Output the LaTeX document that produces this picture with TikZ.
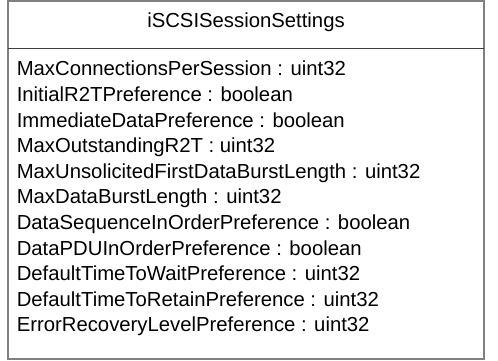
\documentclass[tikz,border=0pt]{standalone}
\usepackage{fontspec}
\setmainfont{Liberation Sans}
\begin{document}
\begin{tikzpicture}[x=1pt,y=-1pt,
    boxline/.style={line width=1.6pt,draw=black!50},
    divline/.style={line width=1.8pt,draw=black!75},
    umltext/.style={inner sep=0pt,font=\fontsize{20.3}{25.5}\selectfont},
    attr/.style={umltext,anchor=base west}]
  \useasboundingbox (0,0) rectangle (498,361);
  \draw[boxline] (8,1) rectangle (484,359);
  \draw[divline] (8,48.5) -- (484,48.5);
  \node[umltext,anchor=base] (title) at (246,27.5) {iSCSISessionSettings};
  \node[attr] (a1) at (16.6,76.0) {MaxConnectionsPerSession : uint32};
  \node[attr] (a2) at (16.6,101.6) {InitialR2TPreference : boolean};
  \node[attr] (a3) at (16.6,127.1) {ImmediateDataPreference : boolean};
  \node[attr] (a4) at (16.6,152.7) {MaxOutstandingR2T : uint32};
  \node[attr] (a5) at (16.6,178.3) {MaxUnsolicitedFirstDataBurstLength : uint32};
  \node[attr] (a6) at (16.6,203.9) {MaxDataBurstLength : uint32};
  \node[attr] (a7) at (16.6,229.4) {DataSequenceInOrderPreference : boolean};
  \node[attr] (a8) at (16.6,255.0) {DataPDUInOrderPreference : boolean};
  \node[attr] (a9) at (16.6,280.6) {DefaultTimeToWaitPreference : uint32};
  \node[attr] (a10) at (16.6,306.1) {DefaultTimeToRetainPreference : uint32};
  \node[attr] (a11) at (16.6,331.7) {ErrorRecoveryLevelPreference : uint32};
\end{tikzpicture}
\end{document}
